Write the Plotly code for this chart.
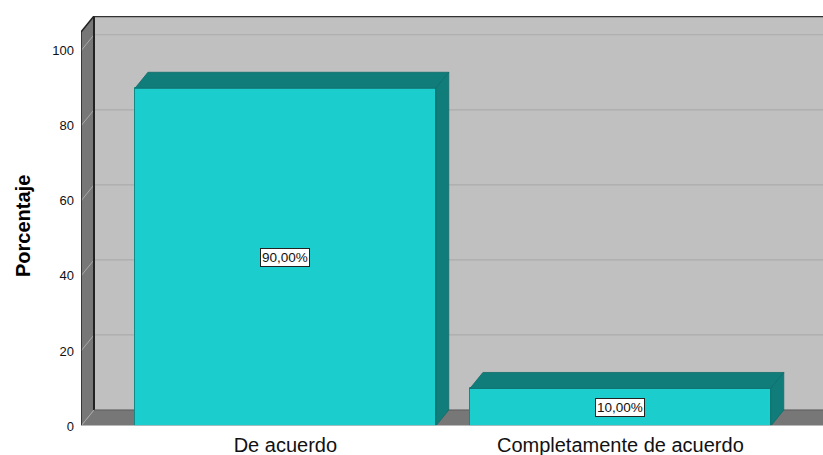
import plotly.graph_objects as go

categories = ["De acuerdo", "Completamente de acuerdo"]
values = [90.0, 10.0]
labels = ["90,00%", "10,00%"]
y_ticks = [0, 20, 40, 60, 80, 100]

# geometry (data units)
X0 = -0.61
XR = X0 + 742 / 335
DX = 13 / 335
DY = 4.27
YW = 105.0
YTOP = YW + DY
BW = 0.898

FRONT = "#1ccdcd"
DARK = "#117d7a"
WALL = "#c0c0c0"
FLOOR = "#777777"
FONT = "Arial, Liberation Sans"

fig = go.Figure()
xs = list(range(len(categories)))

fig.add_trace(go.Bar(x=xs, y=values, width=BW, marker=dict(color=FRONT, line=dict(color="#118a87", width=1)),
                     hoverinfo="skip", showlegend=False))

for i, v in zip(xs, values):
    l, r = i - BW / 2, i + BW / 2
    # top face
    fig.add_trace(go.Scatter(x=[l, l + DX, r + DX, r, l], y=[v, v + DY, v + DY, v, v], mode="lines",
                             fill="toself", fillcolor=DARK, line=dict(color="#0e6c69", width=0.8),
                             hoverinfo="skip", showlegend=False))
    # side face
    fig.add_trace(go.Scatter(x=[r, r + DX, r + DX, r, r], y=[0, DY, v + DY, v, 0], mode="lines",
                             fill="toself", fillcolor=DARK, line=dict(color="#0e6c69", width=0.8),
                             hoverinfo="skip", showlegend=False))

shapes = []
# back wall
shapes.append(dict(type="rect", xref="x", yref="y", x0=X0 + DX, x1=XR + 1, y0=DY, y1=YTOP,
                   fillcolor=WALL, line=dict(width=0), layer="below"))
# back wall gridlines
for t in y_ticks[1:]:
    shapes.append(dict(type="line", xref="x", yref="y", x0=X0 + DX, x1=XR + 1, y0=t + DY, y1=t + DY,
                       line=dict(color="#ababab", width=1.2), layer="below"))
# floor
shapes.append(dict(type="path", xref="x", yref="y",
                   path=f"M {X0},0 L {X0 + DX},{DY} L {XR + 1},{DY} L {XR + 1},0 Z",
                   fillcolor=FLOOR, line=dict(width=0), layer="below"))
# left wall
shapes.append(dict(type="path", xref="x", yref="y",
                   path=f"M {X0},0 L {X0},{YW} L {X0 + DX},{YTOP} L {X0 + DX},{DY} Z",
                   fillcolor=FLOOR, line=dict(width=0), layer="below"))
# left wall tick connectors
for t in y_ticks:
    shapes.append(dict(type="line", xref="x", yref="y", x0=X0, x1=X0 + DX, y0=t, y1=t + DY,
                       line=dict(color="#a8a8a8", width=1), layer="below"))
# edges
shapes.append(dict(type="line", xref="x", yref="y", x0=X0 + DX, x1=X0 + DX, y0=DY, y1=YTOP,
                   line=dict(color="#222222", width=2), layer="below"))
shapes.append(dict(type="line", xref="x", yref="y", x0=X0 + DX, x1=XR + 1, y0=YTOP, y1=YTOP,
                   line=dict(color="#333333", width=2.5), layer="below"))
shapes.append(dict(type="line", xref="x", yref="y", x0=X0, x1=X0 + DX, y0=YW, y1=YTOP,
                   line=dict(color="#222222", width=1.5), layer="below"))
shapes.append(dict(type="line", xref="x", yref="y", x0=X0, x1=X0, y0=0, y1=YW,
                   line=dict(color="#222222", width=1.5), layer="below"))
shapes.append(dict(type="line", xref="x", yref="y", x0=X0 + DX, x1=XR + 1, y0=DY, y1=DY,
                   line=dict(color="#5a5a5a", width=1), layer="below"))
shapes.append(dict(type="line", xref="x", yref="y", x0=X0, x1=XR + 1, y0=0, y1=0,
                   line=dict(color="#cfcfcf", width=1.5), layer="above"))

annotations = []
for i, v, t in zip(xs, values, labels):
    annotations.append(dict(x=i, y=v / 2, xref="x", yref="y", text=t, showarrow=False,
                            bgcolor="white", bordercolor="#222222", borderwidth=1, borderpad=1,
                            font=dict(family=FONT, size=13.5, color="#111111")))
annotations.append(dict(x=(23 - 81) / 742, y=(426 - 226) / 410, xref="paper", yref="paper",
                        xanchor="center", yanchor="middle",
                        text="<b>Porcentaje</b>", textangle=-90, showarrow=False,
                        font=dict(family=FONT, size=20, color="black")))

fig.update_layout(
    width=823, height=455,
    margin=dict(l=81, r=0, t=16, b=29),
    paper_bgcolor="white", plot_bgcolor="white",
    shapes=shapes, annotations=annotations,
    bargap=0,
    xaxis=dict(range=[X0, XR], tickvals=xs, ticktext=categories, showgrid=False, zeroline=False,
               showline=False, ticks="", tickfont=dict(family=FONT, size=20, color="#111111"),
               ticklabelstandoff=5, fixedrange=True, automargin=False),
    yaxis=dict(range=[0, YTOP], tickvals=y_ticks, showgrid=False, zeroline=False, showline=False,
               ticks="", tickfont=dict(family=FONT, size=13, color="#111111"),
               ticklabelstandoff=6, fixedrange=True, automargin=False),
)

fig.write_html("out.html", config={"displayModeBar": False},
               post_script="document.body.style.margin='0';document.body.style.overflow='hidden';")
